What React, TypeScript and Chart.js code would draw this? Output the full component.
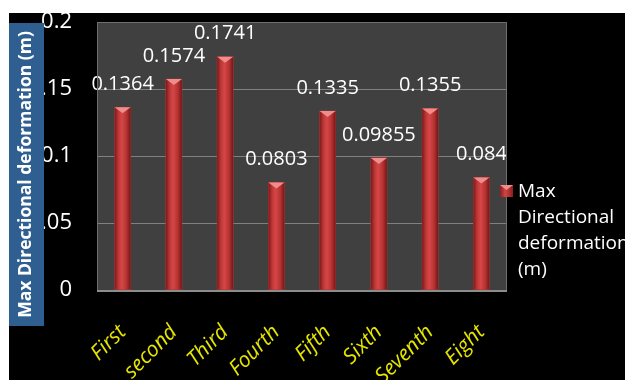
import { useEffect, useRef } from "react";
import { Chart, registerables } from "chart.js";

Chart.register(...registerables);

// Load case names along the x axis
const stages = ["First", "second", "Third", "Fourth", "Fifth", "Sixth", "Seventh", "Eight"];
// Maximum directional deformation per case, metres
const deformation = [0.1364, 0.1574, 0.1741, 0.0803, 0.1335, 0.09855, 0.1355, 0.084];
const seriesName = "Max Directional deformation (m)";
const yTicks = [0, 0.05, 0.1, 0.15, 0.2];

const FONT = "'Open Sans', 'DejaVu Sans', sans-serif";

// Grey plot panel behind the grid, with its frame and the base line on top
const framePlugin = {
  id: "frame",
  beforeDraw(chart: any) {
    const { ctx, chartArea: a, width, height } = chart;
    ctx.save();
    ctx.fillStyle = "#000";
    ctx.fillRect(0, 0, width, height);
    ctx.fillStyle = "#404040";
    ctx.fillRect(a.left, a.top, a.right - a.left, a.bottom - a.top);
    ctx.restore();
  },
  afterDraw(chart: any) {
    const { ctx, chartArea: a } = chart;
    ctx.save();
    ctx.strokeStyle = "#6e6e6e";
    ctx.lineWidth = 1;
    ctx.strokeRect(a.left + 0.5, a.top + 0.5, a.right - a.left - 1, a.bottom - a.top);
    ctx.strokeStyle = "#8c8c8c";
    ctx.lineWidth = 2;
    ctx.beginPath();
    ctx.moveTo(a.left, a.bottom + 1);
    ctx.lineTo(a.right, a.bottom + 1);
    ctx.stroke();
    ctx.restore();
  },
};

// Cylinder shading, pointed caps and value labels on each bar
const barStylePlugin = {
  id: "barStyle",
  afterDatasetsDraw(chart: any) {
    const { ctx } = chart;
    const meta = chart.getDatasetMeta(0);
    const values = chart.data.datasets[0].data;
    ctx.save();
    meta.data.forEach((el: any, i: number) => {
      const { x, y, base, width } = el.getProps(["x", "y", "base", "width"], true);
      const l = x - width / 2;
      const g = ctx.createLinearGradient(l, 0, l + width, 0);
      g.addColorStop(0, "#7a1a1a");
      g.addColorStop(0.25, "#bf3838");
      g.addColorStop(0.45, "#d64646");
      g.addColorStop(0.75, "#b53232");
      g.addColorStop(1, "#721717");
      ctx.fillStyle = g;
      ctx.fillRect(l, y, width, base - y);

      ctx.beginPath();
      ctx.moveTo(l, y);
      ctx.lineTo(l + width, y);
      ctx.lineTo(x, y + 6);
      ctx.closePath();
      ctx.fillStyle = "#ef8c8c";
      ctx.fill();

      ctx.fillStyle = "#fff";
      ctx.font = `20px ${FONT}`;
      ctx.textAlign = "center";
      ctx.textBaseline = "middle";
      ctx.fillText(String(values[i]), x, y - 23);
    });
    ctx.restore();
  },
};

// Legend with the series name wrapped one word per line
const legendPlugin = {
  id: "sideLegend",
  afterDraw(chart: any) {
    const { ctx, chartArea: a } = chart;
    const mx = a.right - 7;
    const my = 172;
    ctx.save();
    const g = ctx.createLinearGradient(mx, 0, mx + 13, 0);
    g.addColorStop(0, "#8a1f1f");
    g.addColorStop(0.4, "#d44444");
    g.addColorStop(1, "#8a1f1f");
    ctx.fillStyle = g;
    ctx.fillRect(mx, my, 13, 12);
    ctx.beginPath();
    ctx.moveTo(mx, my);
    ctx.lineTo(mx + 13, my);
    ctx.lineTo(mx + 6.5, my + 5);
    ctx.closePath();
    ctx.fillStyle = "#ef8c8c";
    ctx.fill();

    ctx.fillStyle = "#fff";
    ctx.font = `19px ${FONT}`;
    ctx.textAlign = "left";
    ctx.textBaseline = "middle";
    seriesName.split(" ").forEach((word, i) => {
      ctx.fillText(word, mx + 18, my + 7 + i * 26);
    });
    ctx.restore();
  },
};

// Axis title in a blue box laid over the left of the value axis
const yTitlePlugin = {
  id: "yTitleBox",
  afterDraw(chart: any) {
    const { ctx } = chart;
    const left = 0, top = 10, w = 35, h = 303;
    ctx.save();
    ctx.fillStyle = "#2f5e91";
    ctx.fillRect(left, top, w, h);
    ctx.translate(left + w / 2, top + h / 2);
    ctx.rotate(-Math.PI / 2);
    ctx.fillStyle = "#fff";
    ctx.font = `bold 17.5px ${FONT}`;
    ctx.textAlign = "center";
    ctx.textBaseline = "middle";
    ctx.fillText(seriesName, 0, 0);
    ctx.restore();
  },
};

export default function App() {
  const ref = useRef<HTMLCanvasElement>(null);

  useEffect(() => {
    const chart = new Chart(ref.current as HTMLCanvasElement, {
      type: "bar",
      data: {
        labels: stages,
        datasets: [
          {
            label: seriesName,
            data: deformation,
            backgroundColor: "#c23a3a",
            barThickness: 16,
          },
        ],
      },
      options: {
        responsive: false,
        animation: false,
        layout: { padding: { top: 9, right: 118, left: 0, bottom: 0 } },
        plugins: {
          legend: { display: false },
          tooltip: { enabled: false },
        },
        scales: {
          x: {
            grid: { display: false, drawTicks: false },
            border: { display: false },
            ticks: {
              color: "#e6e600",
              font: { family: FONT, size: 21, style: "italic" },
              minRotation: 45,
              maxRotation: 45,
              autoSkip: false,
              padding: 30,
            },
            afterFit(scale: any) {
              scale.height = 90;
              scale.paddingLeft = 0;
              scale.paddingRight = 0;
            },
          },
          y: {
            min: yTicks[0],
            max: yTicks[yTicks.length - 1],
            afterBuildTicks(scale: any) {
              scale.ticks = yTicks.map((v) => ({ value: v }));
            },
            grid: { color: "#808080", drawTicks: false },
            border: { display: false },
            ticks: {
              color: "#fff",
              font: { family: FONT, size: 22 },
              padding: 25,
              callback: (v: any) => String(v),
            },
            afterFit(scale: any) {
              scale.width = 88;
              scale.paddingTop = 0;
              scale.paddingBottom = 0;
            },
          },
        },
      },
      plugins: [framePlugin, barStylePlugin, legendPlugin, yTitlePlugin],
    });
    return () => chart.destroy();
  }, []);

  return (
    <div
      style={{
        position: "fixed",
        left: 9,
        top: 13,
        width: 616,
        height: 367,
        background: "#000",
        overflow: "hidden",
      }}
    >
      <canvas ref={ref} width={616} height={367} style={{ display: "block" }} />
    </div>
  );
}
